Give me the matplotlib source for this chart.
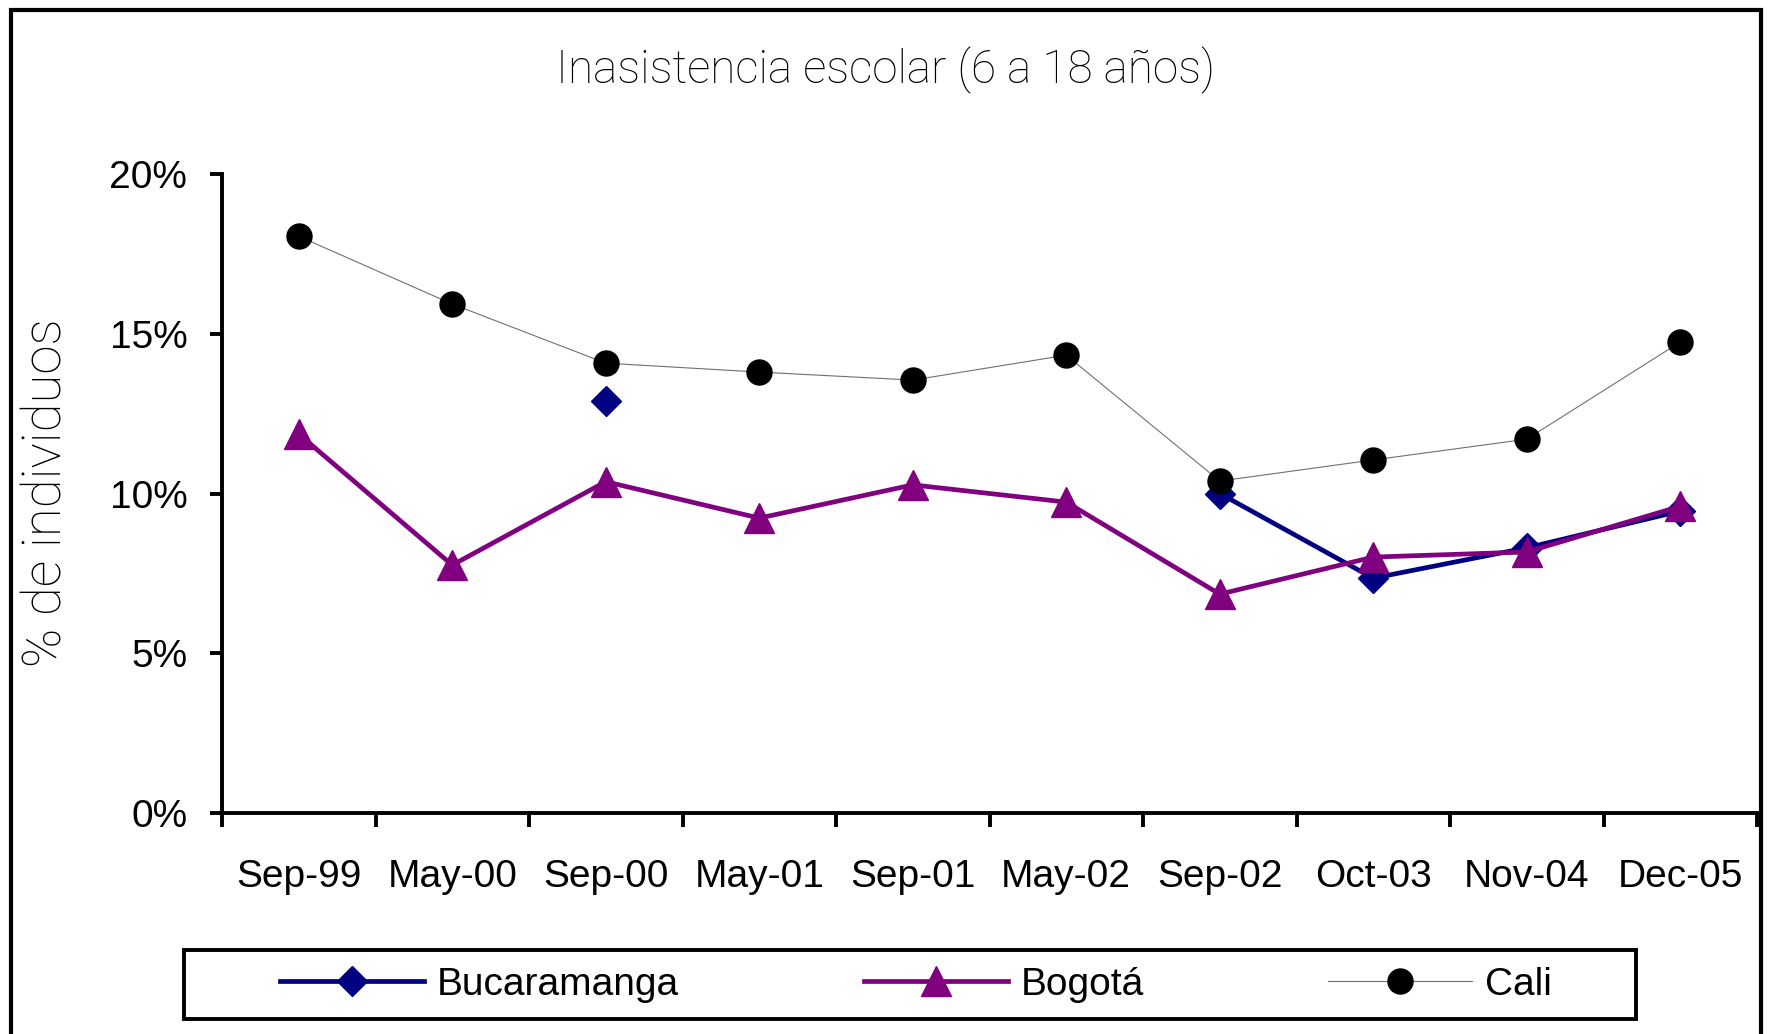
import numpy as np
import matplotlib
matplotlib.use('Agg')
import matplotlib.pyplot as plt
from matplotlib.patches import Rectangle

# data (share of individuals, %)
periods = ['Sep-99', 'May-00', 'Sep-00', 'May-01', 'Sep-01',
           'May-02', 'Sep-02', 'Oct-03', 'Nov-04', 'Dec-05']
bucaramanga = [np.nan, np.nan, 12.9, np.nan, np.nan,
               np.nan, 10.0, 7.35, 8.3, 9.45]
bogota = [11.86, 7.76, 10.37, 9.23, 10.27, 9.73, 6.85, 8.01, 8.17, 9.6]
cali = [18.05, 15.93, 14.08, 13.8, 13.55, 14.33, 10.39, 11.05, 11.7, 14.74]
yticks = [0, 5, 10, 15, 20]

W, H = 1770, 1034
fig = plt.figure(figsize=(W / 100, H / 100), dpi=100)

sans = ['Liberation Sans', 'DejaVu Sans']
thin = ['Roboto', 'DejaVu Sans']
fs = 28

# axes box in pixels: left 222, right 1757, top 174, bottom 813
ax = fig.add_axes([222 / W, (H - 813) / H, (1757 - 222) / W, (813 - 174) / H])

x = np.arange(len(periods)) + 0.5
ax.plot(x, bucaramanga, color='#000080', lw=3.4, marker='D', ms=15,
        label='Bucaramanga', zorder=3)
ax.plot(x, bogota, color='#800080', lw=3.4, marker='^', ms=21,
        label='Bogotá', zorder=4)
ax.plot(x, cali, color='#707070', lw=0.8, marker='o', ms=18,
        markerfacecolor='black', markeredgecolor='black',
        label='Cali', zorder=5)

ax.set_xlim(0, len(periods))
ax.set_ylim(0, 20)

ax.set_xticks(np.arange(len(periods) + 1))
ax.set_xticklabels([])
ax.set_xticks(x, minor=True)
ax.set_xticklabels(periods, minor=True, fontsize=fs, family=sans)
ax.tick_params(axis='x', which='major', length=10, width=2.8, direction='out')
ax.tick_params(axis='x', which='minor', length=0, pad=33)

ax.set_yticks(yticks)
ax.set_yticklabels(['%d%%' % v for v in yticks], fontsize=fs, family=sans)
ax.tick_params(axis='y', length=9, width=2.8, pad=16)

for side in ['top', 'right']:
    ax.spines[side].set_visible(False)
for side in ['left', 'bottom']:
    ax.spines[side].set_linewidth(2.8)
ax.spines['bottom'].set_capstyle('projecting')

# title and y label
fig.text(886 / W, 1 - 70 / H, 'Inasistencia escolar (6 a 18 años)',
         ha='center', va='center', fontsize=33, family=thin,
         fontweight='light', color='black')
fig.text(47 / W, 1 - 493 / H, '% de individuos', rotation=90,
         ha='center', va='center', fontsize=38, family=thin,
         fontweight='light', color='black')

# outer frame (bottom edge falls outside the picture)
fig.patches.append(Rectangle((11 / W, -0.05), (1761 - 11) / W, 1.05 - 10 / H,
                             transform=fig.transFigure, fill=False,
                             lw=3, edgecolor='black'))

# legend box
fig.patches.append(Rectangle((184 / W, 1 - 1019 / H), (1636 - 184) / W,
                             (1019 - 950) / H, transform=fig.transFigure,
                             fill=False, lw=2.8, edgecolor='black'))
fig.legend(loc='center', bbox_to_anchor=(916 / W, 1 - 985 / H), ncol=3,
           frameon=False, prop={'family': sans, 'size': fs},
           handlelength=3.7, handletextpad=0.33, columnspacing=4.75,
           borderaxespad=0, borderpad=0)

fig.savefig('out.png', dpi=100)
